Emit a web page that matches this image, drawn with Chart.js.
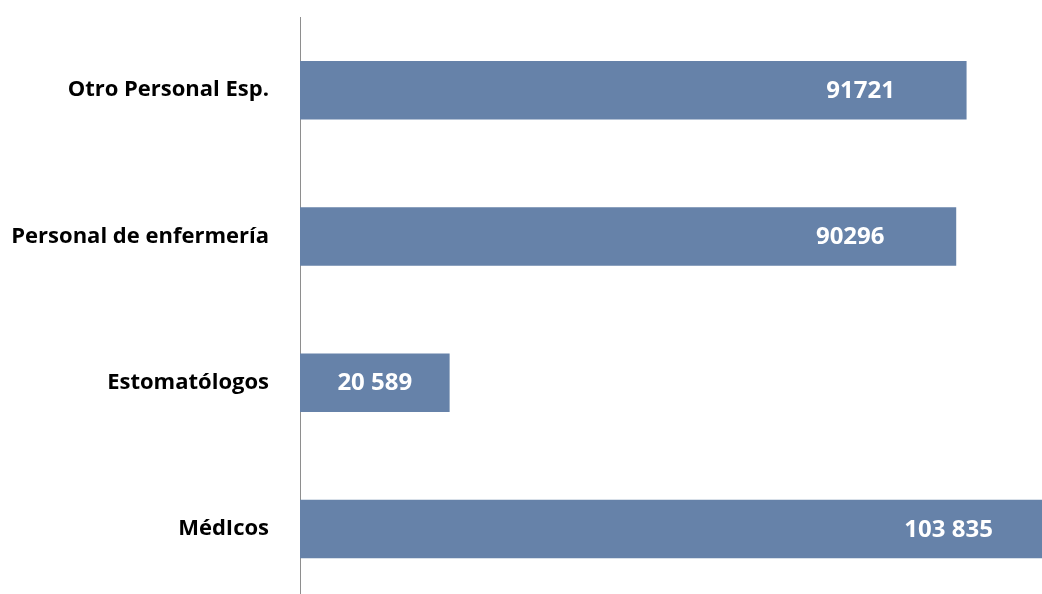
<!DOCTYPE html>
<html>
<head>
<meta charset="utf-8">
<script src="https://cdn.jsdelivr.net/npm/chart.js@4.4.0/dist/chart.umd.min.js"></script>
<style>
    html, body { margin: 0; padding: 0; background: #fff; overflow: hidden; }
    canvas { display: block; }
</style>
</head>
<body>
<canvas id="staffChart" width="1042" height="602"></canvas>
<script>
// Personal de salud por categoría
const categories = ['Otro Personal Esp.', 'Personal de enfermería', 'Estomatólogos', 'MédIcos'];
const staffCounts = [91721, 90296, 20589, 103835];
const countLabels = ['91721', '90296', '20 589', '103 835'];
const xMax = 102100;

const barColor = '#6682a9';
const fontFamily = "'Open Sans', 'DejaVu Sans', sans-serif";

// white value labels inside the bars
const valueLabelPlugin = {
    id: 'valueLabels',
    afterDatasetsDraw(chart) {
        const ctx = chart.ctx;
        const area = chart.chartArea;
        const meta = chart.getDatasetMeta(0);
        ctx.save();
        ctx.beginPath();
        ctx.rect(area.left, area.top, area.right - area.left, area.bottom - area.top);
        ctx.clip();
        ctx.fillStyle = '#ffffff';
        ctx.font = 'bold 24px ' + fontFamily;
        ctx.textAlign = 'center';
        ctx.textBaseline = 'middle';
        meta.data.forEach(function(bar, i) {
            const len = bar.x - bar.base;
            const cx = len < 250 ? (bar.x + bar.base) / 2 : bar.x - 106;
            ctx.fillText(countLabels[i], cx, bar.y + 1);
        });
        ctx.restore();
    }
};

new Chart(document.getElementById('staffChart'), {
    type: 'bar',
    data: {
        labels: categories,
        datasets: [{
            data: staffCounts,
            backgroundColor: barColor,
            borderWidth: 0,
            categoryPercentage: 0.8,
            barPercentage: 0.5,
            clip: 0
        }]
    },
    options: {
        indexAxis: 'y',
        responsive: false,
        animation: false,
        layout: { padding: { top: 17, right: 0, bottom: 0, left: 0 } },
        plugins: {
            legend: { display: false },
            tooltip: { enabled: false }
        },
        scales: {
            x: {
                display: false,
                min: 0,
                max: xMax
            },
            y: {
                afterFit: function(scale) {
                    scale.width = 300;
                    scale.paddingTop = 0;
                    scale.paddingBottom = 0;
                },
                grid: { display: false, drawTicks: false },
                border: { display: true, color: '#8e8e8e', width: 1 },
                ticks: {
                    padding: 31,
                    color: '#000000',
                    font: { family: fontFamily, size: 22, weight: 'bold' }
                }
            }
        }
    },
    plugins: [valueLabelPlugin]
});
</script>
</body>
</html>
